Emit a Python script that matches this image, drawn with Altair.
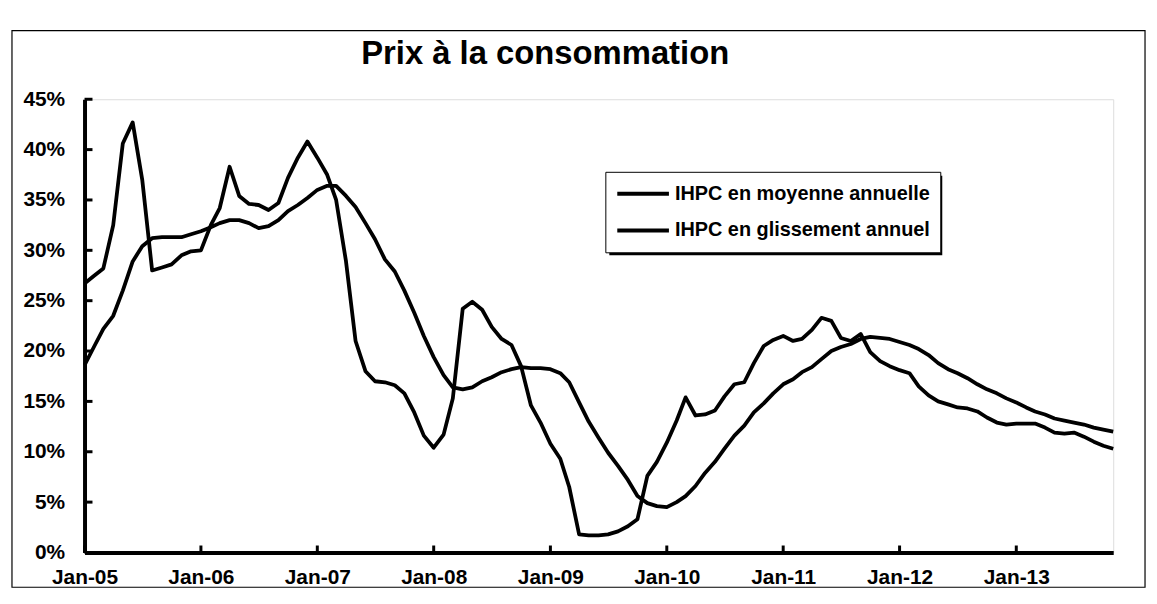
import altair as alt
import pandas as pd

title_text = "Prix à la consommation"
series_names = ["IHPC en moyenne annuelle", "IHPC en glissement annuel"]
start_month = "2005-01-01"
end_month = "2013-11-01"

# IHPC en moyenne annuelle (%), monthly Jan-05 .. Nov-13
moyenne = [
    18.6, 20.5, 22.2, 23.5, 26.0, 28.9, 30.4, 31.2, 31.3, 31.3, 31.3, 31.6,
    31.9, 32.3, 32.7, 33.0, 33.0, 32.7, 32.2, 32.4, 33.0, 33.9, 34.5, 35.2,
    36.0, 36.4, 36.4, 35.4, 34.3, 32.7, 31.1, 29.1, 27.9, 26.0, 23.8, 21.5,
    19.4, 17.6, 16.4, 16.2, 16.4, 17.0, 17.4, 17.9, 18.2, 18.4, 18.3, 18.3,
    18.2, 17.8, 16.9, 14.9, 13.0, 11.4, 9.9, 8.6, 7.2, 5.6, 4.9, 4.6,
    4.5, 5.0, 5.6, 6.6, 7.9, 9.0, 10.3, 11.6, 12.6, 13.9, 14.8, 15.8,
    16.7, 17.2, 17.9, 18.4, 19.2, 20.0, 20.4, 20.7, 21.2, 21.4, 21.3, 21.2,
    20.9, 20.6, 20.2, 19.6, 18.8, 18.2, 17.8, 17.3, 16.7, 16.2, 15.8, 15.3,
    14.9, 14.4, 14.0, 13.7, 13.3, 13.1, 12.9, 12.7, 12.4, 12.2, 12.0,
]

# IHPC en glissement annuel (%), monthly Jan-05 .. Nov-13
glissement = [
    26.7, 27.5, 28.2, 32.5, 40.6, 42.7, 37.0, 28.0, 28.3, 28.6, 29.5, 29.9,
    30.0, 32.5, 34.2, 38.3, 35.4, 34.6, 34.5, 34.0, 34.7, 37.2, 39.2, 40.8,
    39.2, 37.5, 35.0, 28.9, 21.0, 18.0, 17.0, 16.9, 16.6, 15.8, 13.9, 11.6,
    10.4, 11.7, 15.3, 24.2, 24.9, 24.1, 22.4, 21.2, 20.6, 18.5, 14.6, 12.9,
    10.8, 9.3, 6.5, 1.8, 1.7, 1.7, 1.8, 2.1, 2.6, 3.3, 7.6, 9.0,
    10.9, 13.1, 15.4, 13.6, 13.7, 14.1, 15.5, 16.7, 16.9, 18.8, 20.5, 21.1,
    21.5, 21.0, 21.2, 22.1, 23.3, 23.0, 21.3, 21.0, 21.7, 19.9, 19.0, 18.5,
    18.1, 17.8, 16.5, 15.6, 15.0, 14.7, 14.4, 14.3, 14.0, 13.4, 12.9, 12.7,
    12.8, 12.8, 12.8, 12.4, 11.9, 11.8, 11.9, 11.5, 11.0, 10.6, 10.3,
]

y_ticks = [0, 5, 10, 15, 20, 25, 30, 35, 40, 45]
x_tick_years = [2005, 2006, 2007, 2008, 2009, 2010, 2011, 2012, 2013]

W, H = 1035, 456
FONT = "Liberation Sans"

dates = [d.strftime("%Y-%m-%d") for d in pd.date_range(start_month, periods=len(moyenne), freq="MS")]
df = pd.concat([
    pd.DataFrame({"date": dates, "value": moyenne, "serie": series_names[0]}),
    pd.DataFrame({"date": dates, "value": glissement, "serie": series_names[1]}),
])

x_scale = alt.Scale(
    type="utc",
    domain=[alt.DateTime(year=2005, month=1, date=1, utc=True),
            alt.DateTime(year=2013, month=11, date=1, utc=True)],
)
y_scale = alt.Scale(domain=[0, 45], nice=False, zero=True)

axis_style = dict(
    title=None,
    ticks=False,
    grid=False,
    domainColor="black",
    domainWidth=4,
    labelFont=FONT,
    labelFontWeight="bold",
    labelColor="black",
    labelFlush=False,
)
x_axis = alt.Axis(
    values=[alt.DateTime(year=y, month=1, date=1, utc=True) for y in x_tick_years],
    format="%b-%y",
    labelPadding=14,
    labelFontSize=21,
    **axis_style,
)
y_axis = alt.Axis(
    values=y_ticks,
    labelExpr="datum.value + '%'",
    labelPadding=20,
    labelFontSize=21,
    **axis_style,
)

LEG_X, LEG_Y = 524, 73
LEG_W, LEG_H = 335, 80

lines = alt.Chart(df).mark_line(strokeWidth=3.8, strokeJoin="round").encode(
    x=alt.X("date:T", scale=x_scale, axis=x_axis),
    y=alt.Y("value:Q", scale=y_scale, axis=y_axis),
    color=alt.Color(
        "serie:N",
        scale=alt.Scale(domain=series_names, range=["black", "black"]),
        legend=alt.Legend(
            title=None,
            orient="none",
            legendX=LEG_X,
            legendY=LEG_Y,
            symbolType="stroke",
            symbolSize=2700,
            symbolStrokeWidth=4,
            clipHeight=24,
            labelFont=FONT,
            labelFontSize=20,
            labelFontWeight="bold",
            labelColor="black",
            labelLimit=500,
            labelOffset=4,
            rowPadding=13,
            padding=10,
            strokeColor="black",
            fillColor="white",
        ),
    ),
    detail="serie:N",
)

ytick_df = pd.DataFrame({"value": y_ticks})
yticks = alt.Chart(ytick_df).mark_rule(color="black", strokeWidth=3).encode(
    y=alt.Y("value:Q", scale=y_scale, axis=y_axis),
    x=alt.value(0),
    x2=alt.value(8),
)

xtick_df = pd.DataFrame({"date": [f"{y}-01-01" for y in x_tick_years]})
xticks = alt.Chart(xtick_df).mark_rule(color="black", strokeWidth=3).encode(
    x=alt.X("date:T", scale=x_scale, axis=x_axis),
    y=alt.value(H),
    y2=alt.value(H - 7),
)

frame = alt.Chart(alt.Data(values=[{}])).mark_rect(
    fill="transparent", stroke="black", strokeWidth=1.2
).encode(
    x=alt.value(-73), x2=alt.value(1067), y=alt.value(-69), y2=alt.value(491)
)

# drop shadow behind the legend box
legend_shadow = alt.Chart(alt.Data(values=[{}])).mark_rect(
    fill="black", stroke=None
).encode(
    x=alt.value(LEG_X + 4), x2=alt.value(LEG_X + LEG_W + 4),
    y=alt.value(LEG_Y + 4), y2=alt.value(LEG_Y + LEG_H + 4),
)

chart = alt.layer(frame, lines, yticks, xticks, legend_shadow).properties(
    width=W,
    height=H,
    title=alt.TitleParams(
        title_text,
        font=FONT,
        fontSize=33,
        fontWeight="bold",
        color="black",
        anchor="middle",
        frame="group",
        dx=-54,
        dy=41,
        offset=0,
    ),
    autosize=alt.AutoSizeParams(type="none"),
    padding={"left": 77, "top": 90, "right": 36, "bottom": 44},
).configure_view(
    stroke="black", strokeWidth=1.2
).configure_legend(
    strokeWidth=1.5
).configure(background="white")

chart.save("out.html", embed_options={"renderer": "svg", "actions": False})
